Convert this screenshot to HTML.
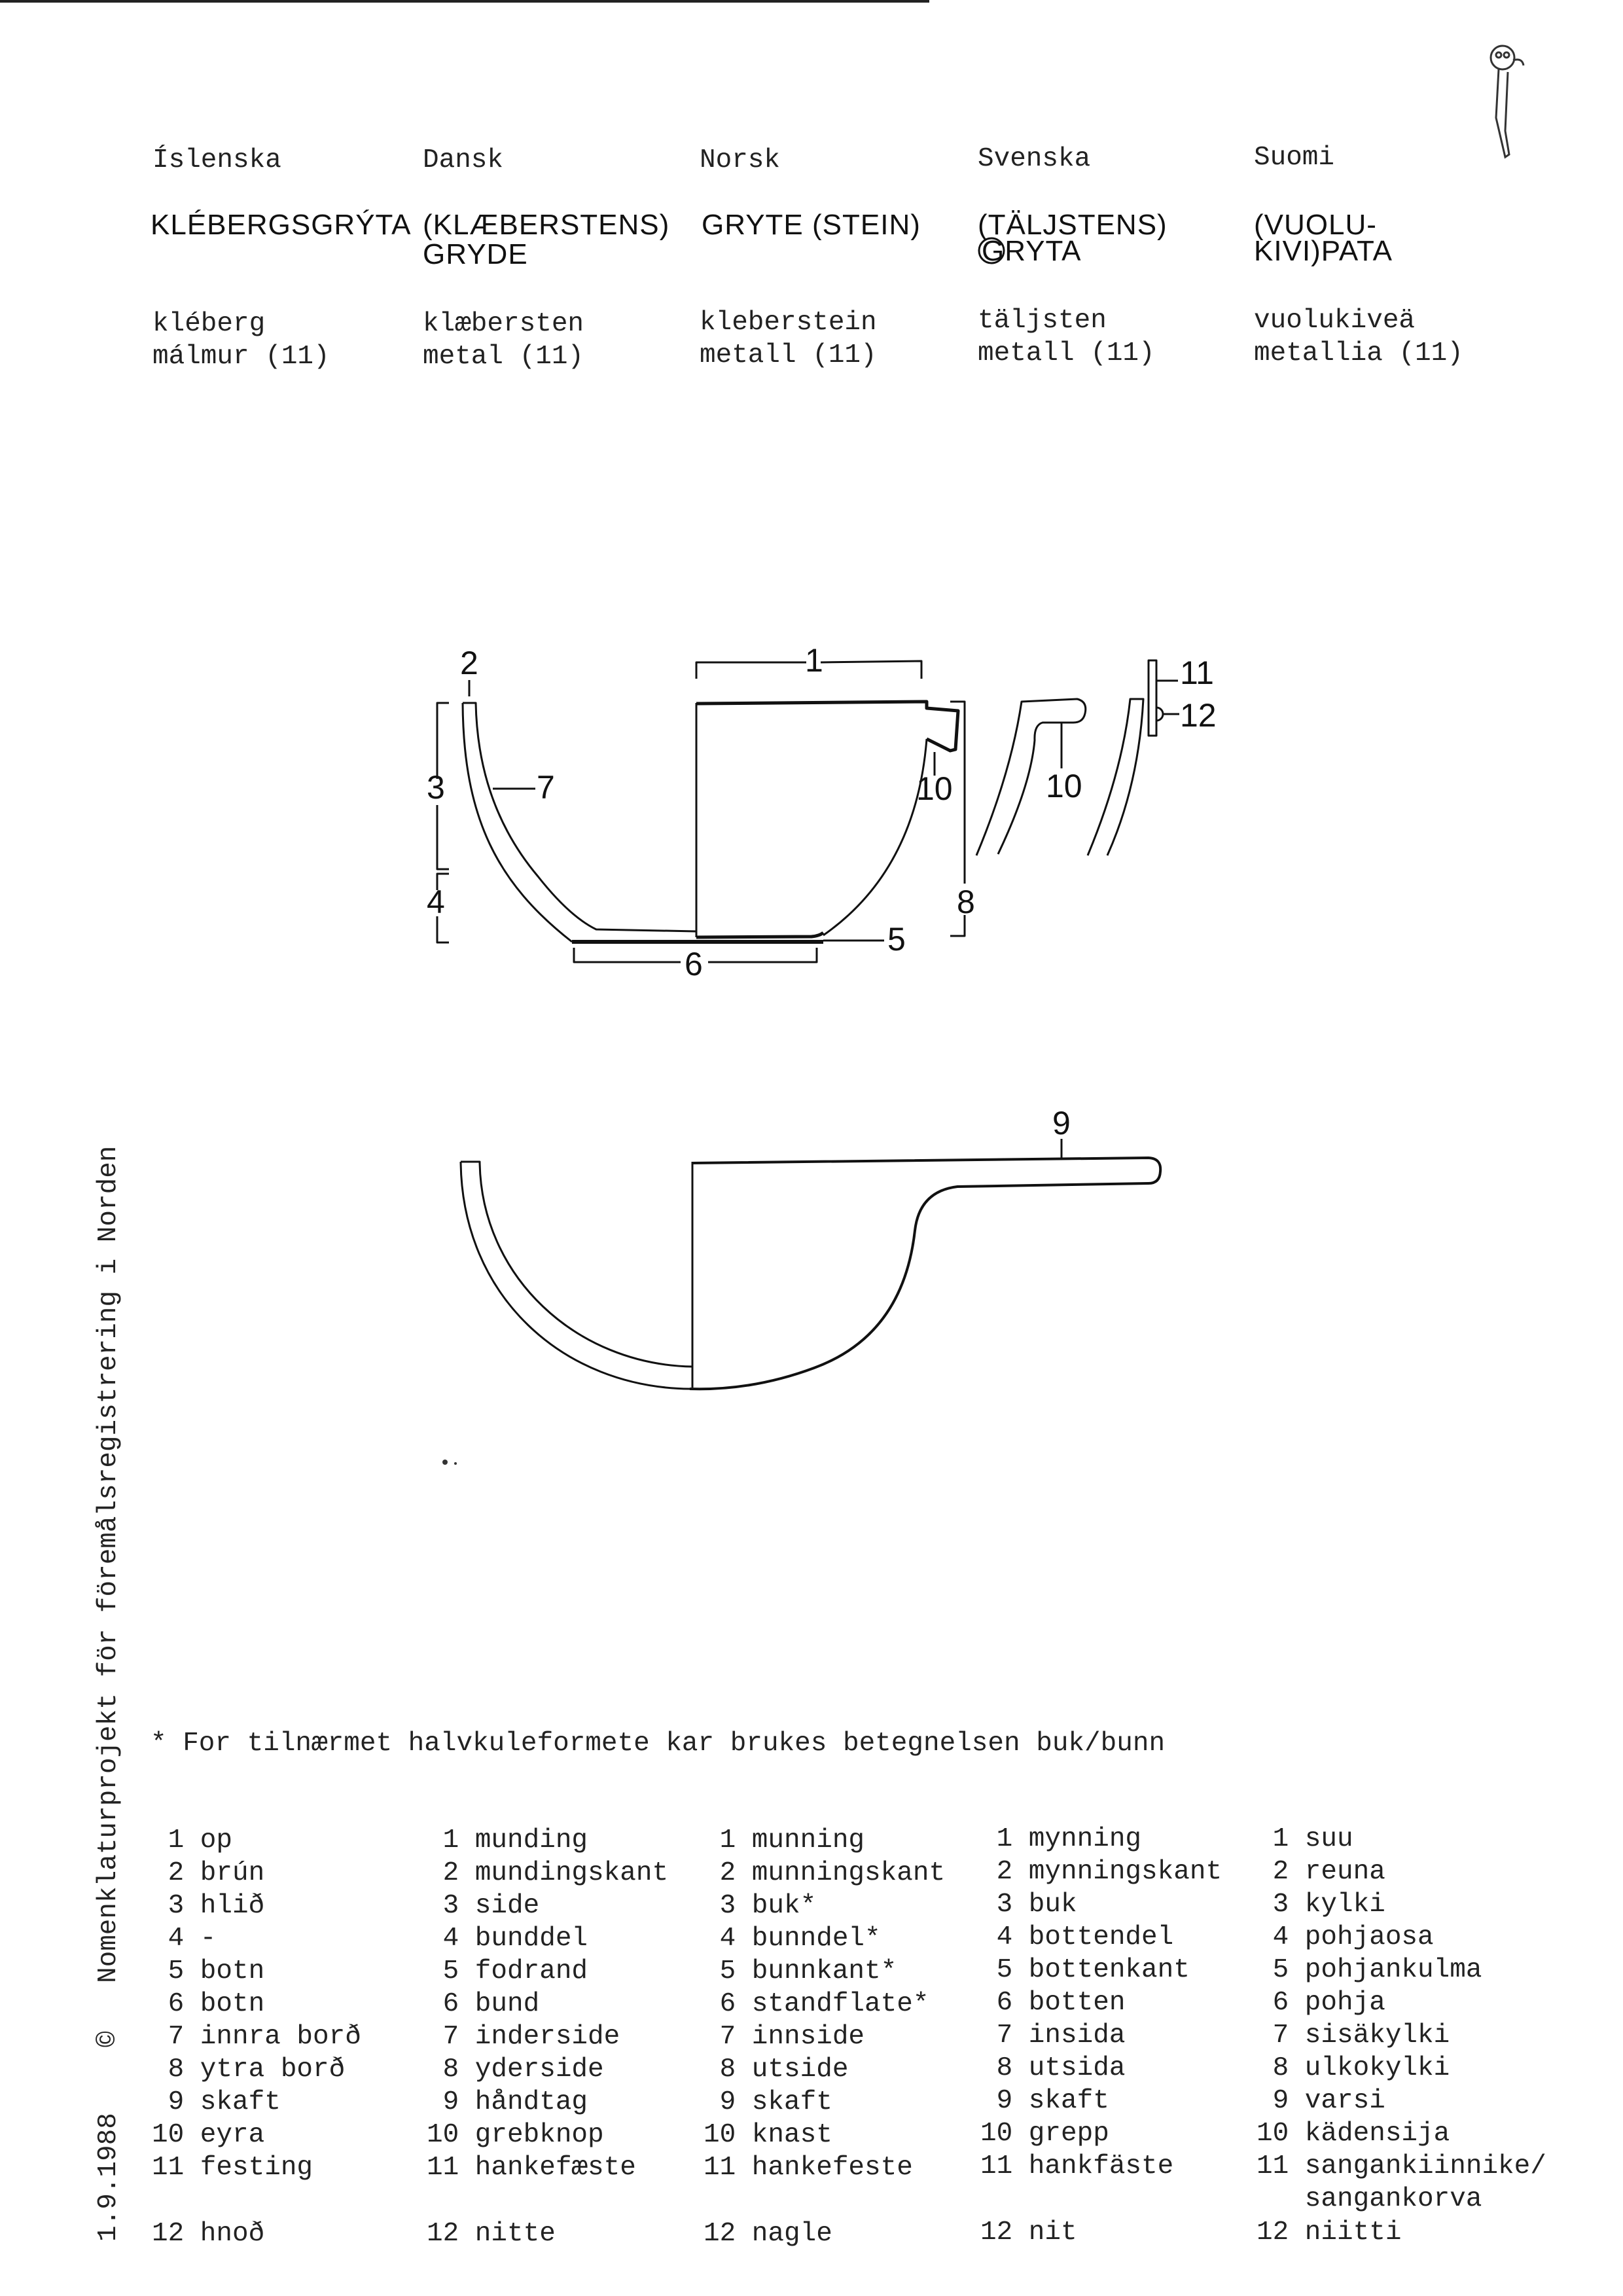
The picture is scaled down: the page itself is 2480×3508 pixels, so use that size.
<!DOCTYPE html>
<html><head><meta charset="utf-8"><style>
html,body{margin:0;padding:0;background:#fff}
svg{display:block}
.m{font-family:"Liberation Mono","DejaVu Sans Mono",monospace;font-size:41px;fill:#222;white-space:pre}
.s{font-family:"Liberation Sans","DejaVu Sans",sans-serif;font-size:44px;fill:#111;letter-spacing:1px}
.d{font-family:"Liberation Sans","DejaVu Sans",sans-serif;font-size:50px;fill:#111}
</style></head><body>
<svg width="2480" height="3508" viewBox="0 0 2480 3508" xmlns="http://www.w3.org/2000/svg">
<rect x="0" y="0" width="1420" height="4" fill="#222"/>
<g stroke="#333" stroke-width="3" fill="none">
<circle cx="2296" cy="88" r="18"/><circle cx="2290" cy="84" r="4"/><circle cx="2302" cy="84" r="4"/>
<path d="M2312 92 q14 -4 16 8"/>
<path d="M2290 106 L2286 180 L2300 240 L2306 236 L2300 200 L2304 110"/>
</g>
<g class="m">
<text x="233" y="255">Íslenska</text><text x="646" y="255">Dansk</text><text x="1069" y="255">Norsk</text><text x="1494" y="253">Svenska</text><text x="1916" y="251">Suomi</text>
<text x="233" y="505">kléberg</text><text x="233" y="555">málmur (11)</text>
<text x="646" y="505">klæbersten</text><text x="646" y="555">metal (11)</text>
<text x="1069" y="503">kleberstein</text><text x="1069" y="553">metall (11)</text>
<text x="1494" y="500">täljsten</text><text x="1494" y="550">metall (11)</text>
<text x="1916" y="500">vuolukiveä</text><text x="1916" y="550">metallia (11)</text>
</g>
<g class="s">
<text x="230" y="358">KLÉBERGSGRÝTA</text>
<text x="646" y="358">(KLÆBERSTENS)</text><text x="646" y="403">GRYDE</text>
<text x="1072" y="358">GRYTE (STEIN)</text>
<text x="1494" y="358">(TÄLJSTENS)</text><text x="1500" y="398">GRYTA</text>
<text x="1916" y="358">(VUOLU-</text><text x="1916" y="398">KIVI)PATA</text>
</g>
<circle cx="1515" cy="383" r="19" fill="none" stroke="#111" stroke-width="3"/>

<g stroke="#111" stroke-width="3" fill="none" stroke-linejoin="round">
<path d="M707 1074 L727 1074 Q730 1230 822 1339 Q870 1400 911 1420 L1064 1423"/>
<path d="M707 1074 C708 1250 760 1350 874 1439"/>
<path d="M874 1439 L1258 1439" stroke-width="6"/>
<path d="M1064 1074 L1064 1432"/>
<path d="M1064 1432 L1240 1431 Q1252 1430 1258 1425" stroke-width="5"/>
<path d="M1064 1075 L1416 1072 L1416 1082 L1464 1086 L1460 1145 L1452 1147 L1416 1129" stroke-width="5"/>
<path d="M1416 1129 Q1400 1330 1258 1429"/>
<path d="M1064 1037 L1064 1012 L1232 1012 M1254 1012 L1408 1010 L1408 1037"/>
<path d="M717 1039 L717 1064"/>
<path d="M686 1074 L668 1074 L668 1190 M668 1230 L668 1328 L686 1328 M686 1335 L668 1335 L668 1360 M668 1400 L668 1440 L686 1440"/>
<path d="M753 1205 L818 1205"/>
<path d="M1428 1149 L1428 1185"/>
<path d="M1452 1072 L1474 1072 L1474 1350 M1474 1398 L1474 1430 L1452 1430"/>
<path d="M1258 1437 L1351 1437"/>
<path d="M877 1448 L877 1470 L1040 1470 M1082 1470 L1248 1470 L1248 1448"/>
<path d="M1492 1307 Q1545 1180 1561 1072 L1646 1068 Q1662 1072 1658 1090 Q1655 1104 1640 1104 L1593 1104 Q1580 1108 1581 1131 Q1575 1200 1525 1305"/>
<path d="M1622 1104 L1622 1174"/>
<path d="M1662 1307 Q1715 1180 1727 1068 L1747 1068 Q1740 1200 1692 1307"/>
<path d="M1755 1009 L1767 1009 L1767 1124 L1755 1124 Z"/>
<path d="M1767 1040 L1800 1040 M1767 1081 A10 10 0 0 1 1767 1101 M1777 1091 L1802 1091"/>
</g>
<g class="d">
<text x="703" y="1030">2</text><text x="1230" y="1026">1</text>
<text x="652" y="1220">3</text><text x="652" y="1395">4</text>
<text x="820" y="1220">7</text>
<text x="1400" y="1222">10</text><text x="1598" y="1218">10</text>
<text x="1462" y="1395">8</text>
<text x="1356" y="1452">5</text><text x="1046" y="1490">6</text>
<text x="1803" y="1045">11</text><text x="1803" y="1110">12</text>
<text x="1608" y="1733">9</text>
</g>

<g stroke="#111" stroke-width="3" fill="none" stroke-linejoin="round">
<path d="M704 1775 L733 1775 C735 1950 880 2085 1058 2088"/>
<path d="M704 1775 C706 1980 860 2120 1054 2122"/>
<path d="M1058 1775 L1058 2120"/>
<path d="M1058 1777 L1755 1769 Q1775 1770 1773 1790 Q1772 1808 1755 1808 L1463 1813 Q1405 1820 1398 1880 Q1380 2040 1244 2090 Q1150 2125 1054 2122" stroke-width="4"/>
<path d="M1622 1740 L1622 1769"/>
</g>
<circle cx="680" cy="2234" r="4" fill="#333"/><circle cx="696" cy="2236" r="2" fill="#333"/>

<g class="m" font-size="44">
<text transform="translate(176,3425) rotate(-90)">1.9.1988</text>
<text transform="translate(176,3128) rotate(-90)">©</text>
<text transform="translate(176,3030) rotate(-90)">Nomenklaturprojekt för föremålsregistrering i Norden</text>
</g>

<text x="230" y="2674" class="m">* For tilnærmet halvkuleformete kar brukes betegnelsen buk/bunn</text>

<g class="m">
<text x="232" y="2822">&#160;1 op</text><text x="232" y="2872">&#160;2 brún</text><text x="232" y="2922">&#160;3 hlið</text><text x="232" y="2972">&#160;4 -</text><text x="232" y="3022">&#160;5 botn</text><text x="232" y="3072">&#160;6 botn</text><text x="232" y="3122">&#160;7 innra borð</text><text x="232" y="3172">&#160;8 ytra borð</text><text x="232" y="3222">&#160;9 skaft</text><text x="232" y="3272">10 eyra</text><text x="232" y="3322">11 festing</text><text x="232" y="3423">12 hnoð</text>
<text x="652" y="2822">&#160;1 munding</text><text x="652" y="2872">&#160;2 mundingskant</text><text x="652" y="2922">&#160;3 side</text><text x="652" y="2972">&#160;4 bunddel</text><text x="652" y="3022">&#160;5 fodrand</text><text x="652" y="3072">&#160;6 bund</text><text x="652" y="3122">&#160;7 inderside</text><text x="652" y="3172">&#160;8 yderside</text><text x="652" y="3222">&#160;9 håndtag</text><text x="652" y="3272">10 grebknop</text><text x="652" y="3322">11 hankefæste</text><text x="652" y="3423">12 nitte</text>
<text x="1075" y="2822">&#160;1 munning</text><text x="1075" y="2872">&#160;2 munningskant</text><text x="1075" y="2922">&#160;3 buk*</text><text x="1075" y="2972">&#160;4 bunndel*</text><text x="1075" y="3022">&#160;5 bunnkant*</text><text x="1075" y="3072">&#160;6 standflate*</text><text x="1075" y="3122">&#160;7 innside</text><text x="1075" y="3172">&#160;8 utside</text><text x="1075" y="3222">&#160;9 skaft</text><text x="1075" y="3272">10 knast</text><text x="1075" y="3322">11 hankefeste</text><text x="1075" y="3423">12 nagle</text>
<text x="1498" y="2820">&#160;1 mynning</text><text x="1498" y="2870">&#160;2 mynningskant</text><text x="1498" y="2920">&#160;3 buk</text><text x="1498" y="2970">&#160;4 bottendel</text><text x="1498" y="3020">&#160;5 bottenkant</text><text x="1498" y="3070">&#160;6 botten</text><text x="1498" y="3120">&#160;7 insida</text><text x="1498" y="3170">&#160;8 utsida</text><text x="1498" y="3220">&#160;9 skaft</text><text x="1498" y="3270">10 grepp</text><text x="1498" y="3320">11 hankfäste</text><text x="1498" y="3421">12 nit</text>
<text x="1920" y="2820">&#160;1 suu</text><text x="1920" y="2870">&#160;2 reuna</text><text x="1920" y="2920">&#160;3 kylki</text><text x="1920" y="2970">&#160;4 pohjaosa</text><text x="1920" y="3020">&#160;5 pohjankulma</text><text x="1920" y="3070">&#160;6 pohja</text><text x="1920" y="3120">&#160;7 sisäkylki</text><text x="1920" y="3170">&#160;8 ulkokylki</text><text x="1920" y="3220">&#160;9 varsi</text><text x="1920" y="3270">10 kädensija</text><text x="1920" y="3320">11 sangankiinnike/</text><text x="1920" y="3370">&#160;&#160;&#160;sangankorva</text><text x="1920" y="3421">12 niitti</text>
</g>
</svg>
</body></html>
